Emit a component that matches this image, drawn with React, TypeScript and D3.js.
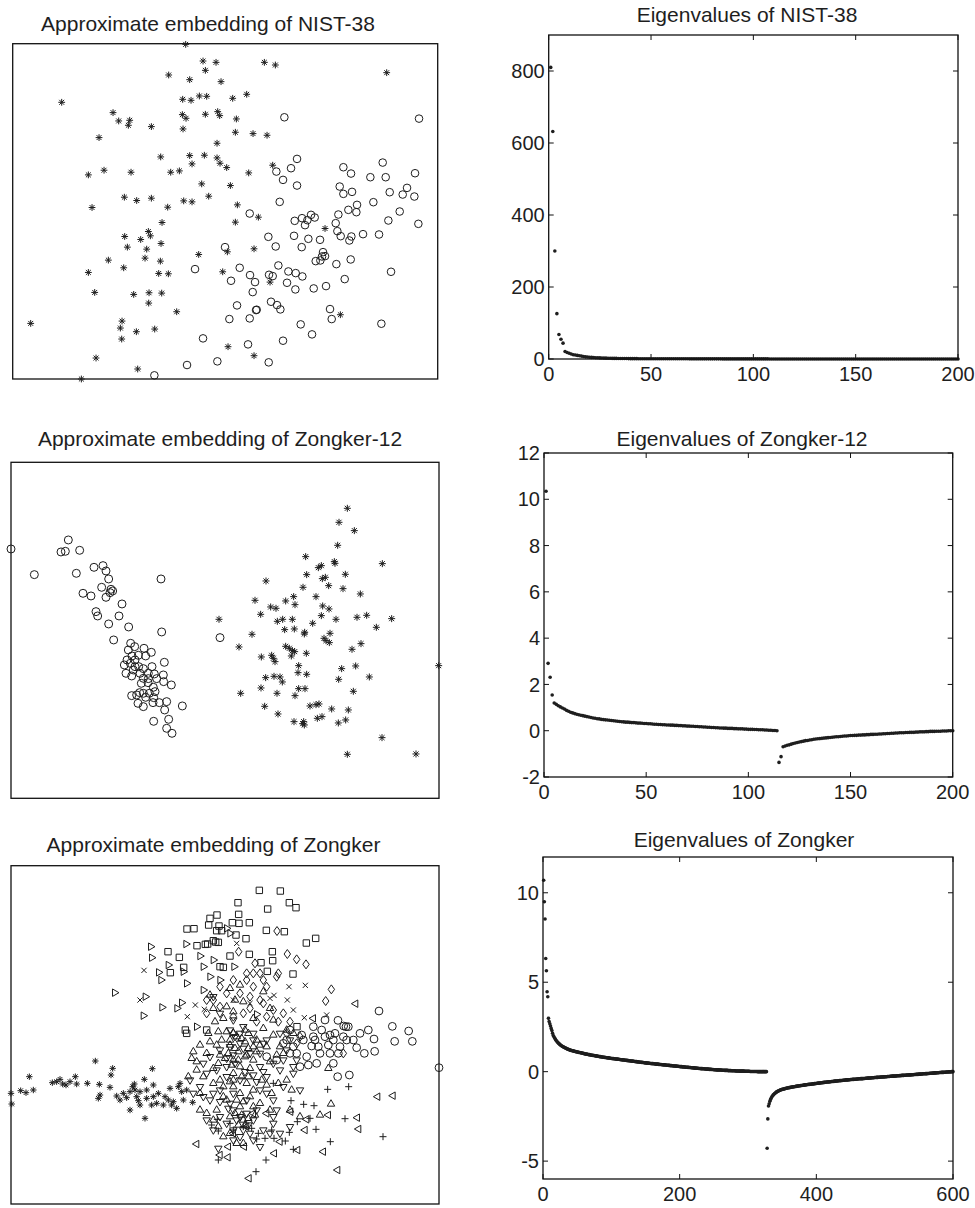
import React from 'react';
import * as d3 from 'd3';

const FONT = '"Liberation Sans", Arial, Helvetica, sans-serif';
const INK = '#1e1e1e';

// ---------- embedding data (arbitrary embedding units, y grows downward) ----------
const nistStars: number[][] = [
  [557,133],[609,183],[648,187],[616,211],[793,187],[826,195],[1160,218],[506,225],[569,239],[663,245],
  [185,307],[598,288],[620,289],[548,298],[573,301],[698,295],[740,283],[339,338],[356,363],[389,361],
  [385,376],[454,380],[547,344],[558,355],[616,343],[653,335],[659,347],[709,357],[549,387],[706,397],
  [759,401],[801,406],[297,413],[651,430],[482,471],[569,467],[613,466],[651,474],[660,490],[680,503],
  [576,492],[818,496],[265,525],[312,511],[393,517],[512,517],[538,513],[746,519],[605,552],[691,557],
  [373,592],[410,602],[454,595],[551,603],[576,606],[626,589],[503,622],[712,615],[276,623],[486,668],
  [706,667],[775,652],[975,686],[445,695],[451,708],[374,710],[422,719],[483,731],[382,742],[440,748],
  [682,756],[762,747],[325,781],[435,775],[481,784],[596,764],[265,818],[371,804],[476,821],[505,822],
  [668,816],[810,847],[284,878],[401,884],[447,879],[485,880],[446,910],[530,936],[1021,945],[92,971],
  [366,964],[361,985],[409,996],[464,988],[365,1018],[684,1041],[762,1068],[288,1075],[413,1108],[244,1138],
];
const nistCircles: number[][] = [
  [853,352],[1257,356],[891,477],[873,505],[1030,502],[1053,521],[1148,488],[1245,520],[829,515],[849,540],
  [891,557],[1111,532],[1157,532],[1019,560],[1030,582],[1056,576],[1169,577],[1208,584],[1221,564],[1243,590],
  [839,606],[1120,607],[1071,615],[1045,630],[1069,637],[1015,644],[1199,635],[749,641],[884,663],[906,655],
  [933,645],[944,653],[922,661],[915,676],[1007,670],[1165,662],[1255,672],[1012,694],[1022,709],[1048,722],
  [1054,710],[1089,703],[1137,704],[805,711],[882,708],[925,717],[960,720],[827,740],[905,742],[675,742],
  [969,757],[966,770],[975,769],[947,784],[961,782],[1009,793],[1052,779],[585,808],[719,804],[835,797],
  [865,815],[887,820],[907,830],[750,826],[807,825],[818,829],[693,843],[765,847],[861,849],[886,869],
  [941,866],[978,859],[1034,838],[1173,816],[758,877],[711,917],[770,930],[768,931],[813,906],[831,916],
  [841,929],[990,928],[995,958],[688,958],[749,956],[902,974],[1144,972],[936,1004],[609,1016],[744,1034],
  [849,1023],[652,1085],[561,1096],[806,1088],[463,1127],
];

const zk12Circles: number[][] = [
  [33,447],[205,420],[183,456],[196,454],[239,451],[103,524],[229,520],[282,502],[309,497],[318,513],
  [326,537],[483,537],[305,562],[333,568],[338,573],[330,578],[249,580],[273,588],[318,592],[366,612],
  [288,635],[293,648],[357,648],[326,672],[386,681],[485,696],[341,720],[660,713],[392,730],[404,740],
  [432,745],[454,757],[385,750],[396,768],[415,766],[437,768],[381,780],[391,790],[405,800],[430,806],
  [456,800],[493,787],[373,795],[378,820],[395,828],[420,820],[445,820],[463,822],[490,825],[491,845],
  [514,855],[444,848],[424,850],[460,862],[465,875],[430,880],[448,880],[419,878],[395,887],[410,885],
  [437,892],[461,893],[500,905],[547,918],[414,910],[430,920],[459,908],[478,908],[494,930],[506,958],
  [461,964],[500,985],[516,1000],[405,780],[445,836],[470,836],[430,835],[400,810],[416,800],
];
const zk12Stars: number[][] = [
  [1042,325],[1017,367],[1063,392],[1013,436],[917,470],[1003,485],[1005,490],[955,503],[964,497],[1147,491],
  [920,524],[967,536],[976,532],[1036,523],[798,543],[909,562],[986,557],[1029,566],[948,590],[1081,582],
  [765,601],[857,603],[881,590],[812,621],[828,625],[885,614],[968,618],[987,627],[782,643],[964,647],
  [1008,658],[1071,652],[1100,646],[1175,656],[657,658],[832,664],[848,658],[877,658],[938,670],[854,689],
  [883,687],[914,697],[913,702],[1129,682],[756,703],[990,700],[972,715],[978,722],[988,728],[717,741],
  [857,739],[868,745],[877,752],[884,755],[1083,731],[1056,748],[784,771],[815,766],[820,775],[825,785],
  [874,768],[919,760],[1316,797],[896,797],[1025,806],[1067,798],[797,833],[822,829],[840,831],[847,846],
  [894,818],[920,823],[1016,838],[1108,831],[783,864],[896,866],[915,866],[722,880],[831,880],[885,887],
  [1060,874],[794,919],[930,918],[948,914],[957,912],[995,927],[1045,930],[834,942],[882,965],[911,965],
  [913,975],[908,971],[952,955],[966,950],[1015,969],[1037,960],[1146,1013],[1042,1063],[1248,1062],
];

// Zongker, ten digit classes
const zkStar: number[][] = [
  [286,783],[338,805],[333,825],[457,806],[88,830],[33,880],[35,912],[62,872],[78,878],[100,870],
  [157,848],[180,838],[188,852],[198,855],[226,830],[230,852],[262,850],[298,853],[300,885],[295,895],
  [330,862],[350,888],[370,880],[390,875],[403,852],[405,870],[410,890],[420,915],[390,930],[433,838],
  [435,955],[440,870],[460,855],[460,890],[470,910],[495,890],[490,915],[515,915],[520,905],[530,925],
  [540,850],[550,900],[578,907],[510,865],[535,860],[455,915],[380,893],[360,900],[420,875],[440,895],
  [210,845],[170,845],[560,870],[398,860],[415,902],[475,880],[505,900],[545,875],
];
const zkSquare: number[][] = [
  [778,271],[841,273],[714,308],[868,308],[888,323],[803,327],[716,343],[651,345],[630,355],[697,368],
  [717,370],[748,368],[626,375],[657,378],[561,387],[582,386],[665,392],[708,405],[799,391],[853,395],
  [738,416],[919,429],[947,415],[504,455],[538,472],[551,502],[511,518],[591,437],[616,433],[623,432],
  [647,426],[655,427],[690,468],[748,463],[783,488],[817,455],[818,482],[802,514],[660,500],[670,502],
  [879,522],[556,690],[891,680],[640,422],[650,392],[560,700],[620,690],
];
const zkRight: number[][] = [
  [452,440],[455,473],[476,517],[483,540],[344,578],[436,590],[486,622],[531,625],[430,647],[558,432],
  [600,468],[640,480],[560,550],[610,570],[690,400],[680,385],[505,495],[545,608],[770,643],[590,680],
  [550,515],[630,530],[702,500],[610,500],[660,540],
];
const zkUp: number[][] = [
  [655,695],[680,695],[630,725],[650,735],[690,720],[710,710],[735,725],[660,765],[675,775],[620,760],
  [580,755],[740,765],[770,755],[800,740],[810,785],[830,765],[695,795],[720,800],[750,805],[640,805],
  [590,785],[820,705],[790,685],[670,655],[640,625],[700,635],[730,605],[760,655],[690,565],[720,555],
  [630,585],[810,625],[790,575],[565,830],[640,850],[600,880],[680,900],[720,920],[760,920],[810,930],
  [985,805],[993,912],[700,860],[670,890],[650,930],[690,950],[730,960],[780,910],[870,930],[900,950],
  [960,945],[610,830],[590,810],[665,720],[705,745],[745,745],[685,760],[655,790],[715,780],[760,780],
  [625,700],[600,735],[860,690],[880,700],[840,740],[700,840],[740,850],[760,870],[720,880],[660,840],
  [735,690],[770,720],[680,620],[705,600],[645,665],[820,660],[850,760],[575,775],[700,780],[670,860],
  [700,700],[725,715],[745,700],[690,735],[715,755],[735,770],[760,740],[780,735],[700,820],[725,830],
  [745,830],[690,845],[710,900],[730,905],[750,890],[705,940],[725,945],[745,955],[765,945],[715,975],
  [735,975],[690,1000],[710,1030],[730,1030],[655,980],[670,1010],[640,960],[620,940],[600,930],[815,880],
  [835,850],[800,855],[785,840],[860,840],[875,870],
];
const zkDown: number[][] = [
  [640,590],[660,640],[700,660],[730,680],[760,700],[800,720],[840,700],[860,750],[880,800],[780,760],
  [700,765],[650,810],[620,820],[680,830],[720,840],[760,825],[800,830],[840,810],[660,870],[700,880],
  [740,900],[780,870],[820,900],[700,930],[740,940],[660,950],[630,900],[600,860],[570,840],[760,960],
  [820,950],[700,990],[720,1010],[690,740],[720,730],[750,760],[660,750],[630,770],[610,790],[780,800],
  [820,790],[850,780],[890,780],[880,820],[800,880],[770,930],[830,930],[640,880],[690,910],[710,960],
  [680,970],[730,990],[750,1000],[790,990],[810,1000],[790,730],[870,720],[720,700],[690,690],[680,800],
  [705,710],[730,745],[760,720],[680,775],[705,790],[735,815],[770,845],[790,815],[660,905],[685,925],
  [720,950],[745,975],[700,1020],[760,1020],[780,1040],[640,990],[620,960],[655,1045],[820,970],[840,1000],
  [870,980],[610,890],[580,880],[850,860],[900,870],
];
const zkDiamond: number[][] = [
  [716,455],[862,462],[890,478],[918,493],[831,393],[994,568],[977,603],[765,490],[740,520],[800,560],
  [780,600],[830,530],[835,520],[640,600],[660,620],[700,650],[790,610],[820,630],[850,640],[860,700],
  [900,710],[1030,760],[720,580],[750,590],[660,560],[620,600],[700,700],[760,560],[780,520],[740,540],
  [620,640],[680,580],[730,640],[750,625],[770,665],[800,650],[835,665],[870,665],[890,730],[760,520],
  [790,540],[700,540],
];
const zkTimes: number[][] = [
  [432,511],[420,600],[562,650],[586,615],[613,628],[867,560],[916,556],[822,586],[862,600],[980,645],
  [913,653],[710,430],[880,630],[750,610],[700,600],[810,595],
];
const zkCircle: number[][] = [
  [1137,633],[1014,661],[1038,680],[1045,680],[1031,678],[1105,690],[1177,679],[1226,693],[1122,717],[1184,724],
  [1237,724],[1070,743],[1093,760],[1124,754],[975,660],[965,690],[940,710],[1000,720],[1040,720],[1020,740],
  [990,760],[960,760],[935,738],[905,705],[910,720],[880,740],[900,800],[925,795],[1013,830],[1048,825],
  [1317,803],[870,760],[850,730],[830,780],[800,770],[975,710],[1005,700],[940,680],[1030,710],[955,740],
  [920,770],[860,720],[890,760],[945,720],[985,735],[1015,760],[990,705],[1060,720],[870,690],[1080,700],
  [950,790],[1000,790],
];
const zkPlus: number[][] = [
  [983,868],[1046,860],[873,902],[911,913],[942,917],[930,955],[892,965],[1035,956],[948,988],[868,997],
  [856,1023],[991,1025],[1149,1010],[880,1048],[820,850],[635,975],[652,958],[655,993],[690,970],[700,990],
  [730,980],[755,985],[775,1000],[795,1015],[770,1017],[798,1080],[768,1115],[815,990],[655,1080],[822,1015],
];
const zkLeft: number[][] = [
  [1067,611],[940,655],[1133,890],[1179,887],[1072,953],[1076,987],[590,1032],[685,1040],[733,1040],[660,1065],
  [684,1072],[823,1060],[893,1050],[970,1055],[1013,1110],[747,1135],[915,990],[985,945],[840,1025],[740,980],
  [700,1000],[872,935],[920,958],[800,940],[760,940],
];

// ---------- eigenvalue spectra ----------
const nistEig: number[] = [
  810,632,300,126,68,55,44,21,18,16, 14,12,11,10,9,8,7,6,5.5,5,
  4.5,4,3.6,3.3,3,2.7,2.5,2.3,2.1,1.9, 1.8,1.7,1.6,1.5,1.4,1.3,1.2,1.2,1.1,1.0,
  .98,.95,.92,.9,.87,.85,.82,.8,.78,.76, .74,.72,.7,.68,.66,.65,.63,.62,.6,.59,
  .57,.56,.55,.53,.52,.51,.5,.49,.48,.47, .46,.45,.44,.43,.42,.41,.4,.39,.38,.38,
  .37,.36,.35,.35,.34,.33,.32,.32,.31,.3, .3,.29,.28,.28,.27,.27,.26,.25,.25,.24,
  .24,.23,.23,.22,.22,.21,.21,.2,.2,.19, .19,.18,.18,.18,.17,.17,.16,.16,.16,.15,
  .15,.15,.14,.14,.14,.13,.13,.13,.12,.12, .12,.11,.11,.11,.1,.1,.1,.1,.09,.09,
  .09,.09,.08,.08,.08,.08,.07,.07,.07,.07, .06,.06,.06,.06,.06,.05,.05,.05,.05,.05,
  .04,.04,.04,.04,.04,.04,.04,.03,.03,.03, .03,.03,.03,.02,.02,.02,.02,.02,.02,.02,
  .01,.01,.01,.01,.01,.01,.01,.01,.01,.01, .01,.01,0,0,0,0,0,0,0,0,
];

const zk12Eig: number[] = [
  10.35,2.91,2.31,1.54,1.20,1.14,1.08,1.03,.98,.94, .88,.84,.80,.77,.74,.71,.69,.67,.65,.63,
  .61,.59,.57,.55,.54,.52,.51,.49,.48,.47, .46,.45,.44,.43,.42,.41,.40,.39,.38,.37,
  .37,.36,.35,.35,.34,.33,.33,.32,.31,.31, .30,.30,.29,.28,.28,.27,.27,.26,.26,.25,
  .25,.24,.24,.23,.23,.22,.22,.21,.21,.20, .20,.19,.19,.18,.18,.17,.17,.16,.16,.15,
  .15,.14,.14,.13,.13,.12,.12,.11,.11,.10, .10,.10,.09,.09,.08,.08,.08,.07,.07,.06,
  .06,.06,.05,.05,.04,.04,.04,.03,.03,.02, .02,.01,.01,0,
  -1.37,-1.12,-.69,-.66,-.63,-.61,
  -.58,-.55,-.53,-.51,-.49,-.47,-.45,-.43,-.42,-.40, -.39,-.37,-.36,-.35,-.34,-.33,-.32,-.31,-.30,-.29,
  -.28,-.27,-.26,-.26,-.25,-.24,-.23,-.23,-.22,-.21, -.21,-.20,-.20,-.19,-.19,-.18,-.18,-.17,-.17,-.16,
  -.16,-.15,-.15,-.14,-.14,-.13,-.13,-.12,-.12,-.11, -.11,-.10,-.10,-.09,-.09,-.09,-.08,-.08,-.07,-.07,
  -.07,-.06,-.06,-.05,-.05,-.05,-.04,-.04,-.03,-.03, -.03,-.02,-.02,-.02,-.01,-.01,-.01,0,0,0,
];

const zkEig: number[] = [
  10.70,9.50,8.53,6.33,5.64,4.47,4.19,2.98,2.80,
  2.68,2.55,2.42,2.30,2.15,2.02,1.95,1.88,1.82,1.76,1.71,
  1.66,1.62,1.58,1.54,1.51,1.48,1.45,1.42,1.40,1.38, 1.36,1.34,1.32,1.30,1.28,1.26,1.25,1.23,1.22,1.20,
  1.19,1.18,1.17,1.16,1.15,1.14,1.13,1.12,1.11,1.10, 1.09,1.08,1.07,1.07,1.06,1.05,1.04,1.03,1.02,1.01,
  1.00,.99,.98,.98,.97,.96,.95,.95,.94,.93, .92,.92,.91,.90,.90,.89,.88,.88,.87,.86,
  .86,.85,.84,.84,.83,.82,.82,.81,.81,.80, .79,.79,.78,.78,.77,.77,.76,.75,.75,.74,
  .74,.73,.73,.72,.72,.71,.71,.70,.70,.69, .69,.68,.68,.67,.67,.66,.66,.65,.65,.64,
  .64,.63,.63,.62,.62,.61,.61,.60,.60,.59, .59,.58,.58,.57,.57,.56,.56,.55,.55,.54,
  .54,.53,.53,.52,.52,.51,.51,.50,.50,.49, .49,.48,.48,.48,.47,.47,.46,.46,.45,.45,
  .45,.44,.44,.43,.43,.42,.42,.42,.41,.41, .40,.40,.40,.39,.39,.38,.38,.38,.37,.37,
  .36,.36,.36,.35,.35,.34,.34,.34,.33,.33, .32,.32,.32,.31,.31,.30,.30,.30,.29,.29,
  .28,.28,.28,.27,.27,.26,.26,.26,.25,.25, .25,.24,.24,.23,.23,.23,.22,.22,.22,.21,
  .21,.20,.20,.20,.19,.19,.19,.18,.18,.18, .17,.17,.17,.16,.16,.16,.15,.15,.15,.14,
  .14,.14,.13,.13,.13,.13,.12,.12,.12,.11, .11,.11,.11,.10,.10,.10,.10,.09,.09,.09,
  .09,.08,.08,.08,.08,.07,.07,.07,.07,.07, .06,.06,.06,.06,.06,.05,.05,.05,.05,.05,
  .05,.04,.04,.04,.04,.04,.04,.03,.03,.03, .03,.03,.03,.03,.02,.02,.02,.02,.02,.02,
  .02,.02,.01,.01,.01,.01,.01,.01,.01,.01, .01,.01,.01,0,0,0,0,0,0,0,
  0,0,0,0,0,0,0,
  -4.28,-2.64,-1.92,-1.80,-1.66,-1.55,-1.47,-1.40,-1.35,-1.30,
  -1.26,-1.22,-1.19,-1.16,-1.13,-1.11,-1.09,-1.07,-1.05,-1.03,
  -1.02,-1.00,-.99,-.98,-.97,-.96,-.95,-.94,-.93,-.92,
  -.91,-.90,-.89,-.89,-.88,-.87,-.86,-.86,-.85,-.84,
  -.84,-.83,-.82,-.82,-.81,-.80,-.80,-.79,-.79,-.78,
  -.77,-.77,-.76,-.76,-.75,-.74,-.74,-.73,-.73,-.72,
  -.72,-.71,-.71,-.70,-.70,-.69,-.69,-.68,-.68,-.67,
  -.67,-.66,-.66,-.65,-.65,-.64,-.64,-.63,-.63,-.62,
  -.62,-.61,-.61,-.60,-.60,-.59,-.59,-.58,-.58,-.58,
  -.57,-.57,-.56,-.56,-.55,-.55,-.55,-.54,-.54,-.53,
  -.53,-.52,-.52,-.52,-.51,-.51,-.50,-.50,-.50,-.49,
  -.49,-.48,-.48,-.48,-.47,-.47,-.46,-.46,-.46,-.45,
  -.45,-.45,-.44,-.44,-.44,-.43,-.43,-.43,-.42,-.42,
  -.42,-.41,-.41,-.41,-.40,-.40,-.40,-.39,-.39,-.39,
  -.39,-.38,-.38,-.38,-.37,-.37,-.37,-.36,-.36,-.36,
  -.35,-.35,-.35,-.34,-.34,-.34,-.34,-.33,-.33,-.33,
  -.32,-.32,-.32,-.31,-.31,-.31,-.30,-.30,-.30,-.30,
  -.29,-.29,-.29,-.28,-.28,-.28,-.27,-.27,-.27,-.27,
  -.26,-.26,-.26,-.25,-.25,-.25,-.25,-.24,-.24,-.24,
  -.23,-.23,-.23,-.23,-.22,-.22,-.22,-.21,-.21,-.21,
  -.21,-.20,-.20,-.20,-.19,-.19,-.19,-.19,-.18,-.18,
  -.18,-.17,-.17,-.17,-.17,-.16,-.16,-.16,-.15,-.15,
  -.15,-.15,-.14,-.14,-.14,-.13,-.13,-.13,-.12,-.12,
  -.12,-.12,-.11,-.11,-.11,-.10,-.10,-.10,-.09,-.09,
  -.09,-.09,-.08,-.08,-.08,-.07,-.07,-.07,-.06,-.06,
  -.06,-.06,-.05,-.05,-.05,-.04,-.04,-.04,-.04,-.03,
  -.03,-.03,-.02,-.02,-.02,-.02,-.01,-.01,-.01,-.01,
  0,0,0,
];

// tick labels
const ticks200 = [0, 50, 100, 150, 200];
const ticks600 = [0, 200, 400, 600];
const nistYTicks = [0, 200, 400, 600, 800];
const zk12YTicks = [-2, 0, 2, 4, 6, 8, 10, 12];
const zkYTicks = [-5, 0, 5, 10];

// ---------- marker shapes (size = radius) ----------
const symStar = { draw(c: any, r: number) { const d = r * 0.72; c.moveTo(-r, 0); c.lineTo(r, 0); c.moveTo(0, -r); c.lineTo(0, r); c.moveTo(-d, -d); c.lineTo(d, d); c.moveTo(-d, d); c.lineTo(d, -d); } };
const symPlus = { draw(c: any, r: number) { c.moveTo(-r, 0); c.lineTo(r, 0); c.moveTo(0, -r); c.lineTo(0, r); } };
const symTimes = { draw(c: any, r: number) { c.moveTo(-r, -r); c.lineTo(r, r); c.moveTo(-r, r); c.lineTo(r, -r); } };
const symCircle = { draw(c: any, r: number) { c.moveTo(r, 0); c.arc(0, 0, r, 0, 2 * Math.PI); } };
const symSquare = { draw(c: any, r: number) { c.rect(-r, -r, 2 * r, 2 * r); } };
const symDiamond = { draw(c: any, r: number) { c.moveTo(0, -r * 1.25); c.lineTo(r * 0.9, 0); c.lineTo(0, r * 1.25); c.lineTo(-r * 0.9, 0); c.closePath(); } };
const tri = (a0: number) => ({
  draw(c: any, r: number) {
    for (let k = 0; k < 3; k++) {
      const a = a0 + (k * 2 * Math.PI) / 3;
      k === 0 ? c.moveTo(r * Math.cos(a), r * Math.sin(a)) : c.lineTo(r * Math.cos(a), r * Math.sin(a));
    }
    c.closePath();
  },
});

type Box = { x0: number; x1: number; y0: number; y1: number };
type Group = { pts: number[][]; type: any; size: number };

function ScatterPanel({ title, tx, ty, box, xd, yd, groups }: { title: string; tx: number; ty: number; box: Box; xd: number[]; yd: number[]; groups: Group[] }) {
  const x = d3.scaleLinear().domain(xd).range([box.x0, box.x1]);
  const y = d3.scaleLinear().domain(yd).range([box.y0, box.y1]);
  return (
    <g>
      <text x={tx} y={ty} textAnchor="middle" fontSize={21} fill={INK}>{title}</text>
      <rect x={box.x0} y={box.y0} width={box.x1 - box.x0} height={box.y1 - box.y0} fill="none" stroke="#111" strokeWidth={1.3} />
      {groups.map((g, gi) => {
        const d = d3.symbol(g.type, g.size)() as string;
        return (
          <g key={gi} fill="none" stroke={INK} strokeWidth={1}>
            {g.pts.map((p, i) => (
              <path key={i} d={d} transform={`translate(${x(p[0])},${y(p[1])})`} />
            ))}
          </g>
        );
      })}
    </g>
  );
}

function EigenPanel({ title, tx, ty, box, xd, yd, xt, yt, vals }: { title: string; tx: number; ty: number; box: Box; xd: number[]; yd: number[]; xt: number[]; yt: number[]; vals: number[] }) {
  const x = d3.scaleLinear().domain(xd).range([box.x0, box.x1]);
  const y = d3.scaleLinear().domain(yd).range([box.y1, box.y0]);
  const tl = 5;
  return (
    <g>
      <text x={tx} y={ty} textAnchor="middle" fontSize={21} fill={INK}>{title}</text>
      <g stroke="#111" strokeWidth={1}>
        {xt.map((t) => (
          <g key={'x' + t}>
            <line x1={x(t)} x2={x(t)} y1={box.y1} y2={box.y1 - tl} />
            <line x1={x(t)} x2={x(t)} y1={box.y0} y2={box.y0 + tl} />
          </g>
        ))}
        {yt.map((t) => (
          <g key={'y' + t}>
            <line x1={box.x0} x2={box.x0 + tl} y1={y(t)} y2={y(t)} />
            <line x1={box.x1} x2={box.x1 - tl} y1={y(t)} y2={y(t)} />
          </g>
        ))}
      </g>
      <g fill={INK}>
        {vals.map((v, i) => (
          <circle key={i} cx={x(i + 1)} cy={y(v)} r={1.8} />
        ))}
      </g>
      <rect x={box.x0} y={box.y0} width={box.x1 - box.x0} height={box.y1 - box.y0} fill="none" stroke="#111" strokeWidth={1.3} />
      <g fontSize={20} fill={INK}>
        {xt.map((t) => (
          <text key={'xl' + t} x={x(t)} y={box.y1 + 22} textAnchor="middle">{t}</text>
        ))}
        {yt.map((t) => (
          <text key={'yl' + t} x={box.x0 - 4} y={y(t)} dy="0.36em" textAnchor="end">{t}</text>
        ))}
      </g>
    </g>
  );
}

export default function App() {
  return (
    <div style={{ position: 'absolute', left: 0, top: 0 }}>
      <svg width={975} height={1208} style={{ display: 'block', background: '#fff' }} fontFamily={FONT}>
        <rect width={975} height={1208} fill="#fff" />

        <ScatterPanel
          title="Approximate embedding of NIST-38" tx={208} ty={31}
          box={{ x0: 12.7, x1: 437.7, y0: 43.7, y1: 379 }} xd={[38, 1313]} yd={[131, 1138]}
          groups={[
            { pts: nistStars, type: symStar, size: 3.4 },
            { pts: nistCircles, type: symCircle, size: 3.8 },
          ]}
        />
        <EigenPanel
          title="Eigenvalues of NIST-38" tx={747} ty={22}
          box={{ x0: 548.7, x1: 958, y0: 35, y1: 359 }} xd={[0, 200]} yd={[0, 900]}
          xt={ticks200} yt={nistYTicks} vals={nistEig}
        />

        <ScatterPanel
          title="Approximate embedding of Zongker-12" tx={220} ty={446}
          box={{ x0: 11, x1: 439, y0: 462.3, y1: 798.3 }} xd={[33, 1317]} yd={[187, 1195]}
          groups={[
            { pts: zk12Circles, type: symCircle, size: 4 },
            { pts: zk12Stars, type: symStar, size: 3.5 },
          ]}
        />
        <EigenPanel
          title="Eigenvalues of Zongker-12" tx={742} ty={446}
          box={{ x0: 544, x1: 952.7, y0: 453, y1: 777 }} xd={[0, 200]} yd={[-2, 12]}
          xt={ticks200} yt={zk12YTicks} vals={zk12Eig}
        />

        <ScatterPanel
          title="Approximate embedding of Zongker" tx={213.5} ty={852}
          box={{ x0: 11, x1: 439, y0: 865.7, y1: 1204 }} xd={[33, 1317]} yd={[197, 1212]}
          groups={[
            { pts: zkStar, type: symStar, size: 3.2 },
            { pts: zkSquare, type: symSquare, size: 3.2 },
            { pts: zkRight, type: tri(0), size: 4.3 },
            { pts: zkDiamond, type: symDiamond, size: 3.6 },
            { pts: zkTimes, type: symTimes, size: 2.6 },
            { pts: zkCircle, type: symCircle, size: 3.9 },
            { pts: zkPlus, type: symPlus, size: 3.5 },
            { pts: zkLeft, type: tri(Math.PI), size: 4.3 },
            { pts: zkDown, type: tri(Math.PI / 2), size: 4.3 },
            { pts: zkUp, type: tri(-Math.PI / 2), size: 4.3 },
          ]}
        />
        <EigenPanel
          title="Eigenvalues of Zongker" tx={744} ty={847}
          box={{ x0: 543, x1: 953, y0: 857, y1: 1179 }} xd={[0, 600]} yd={[-6, 12]}
          xt={ticks600} yt={zkYTicks} vals={zkEig}
        />
      </svg>
    </div>
  );
}
